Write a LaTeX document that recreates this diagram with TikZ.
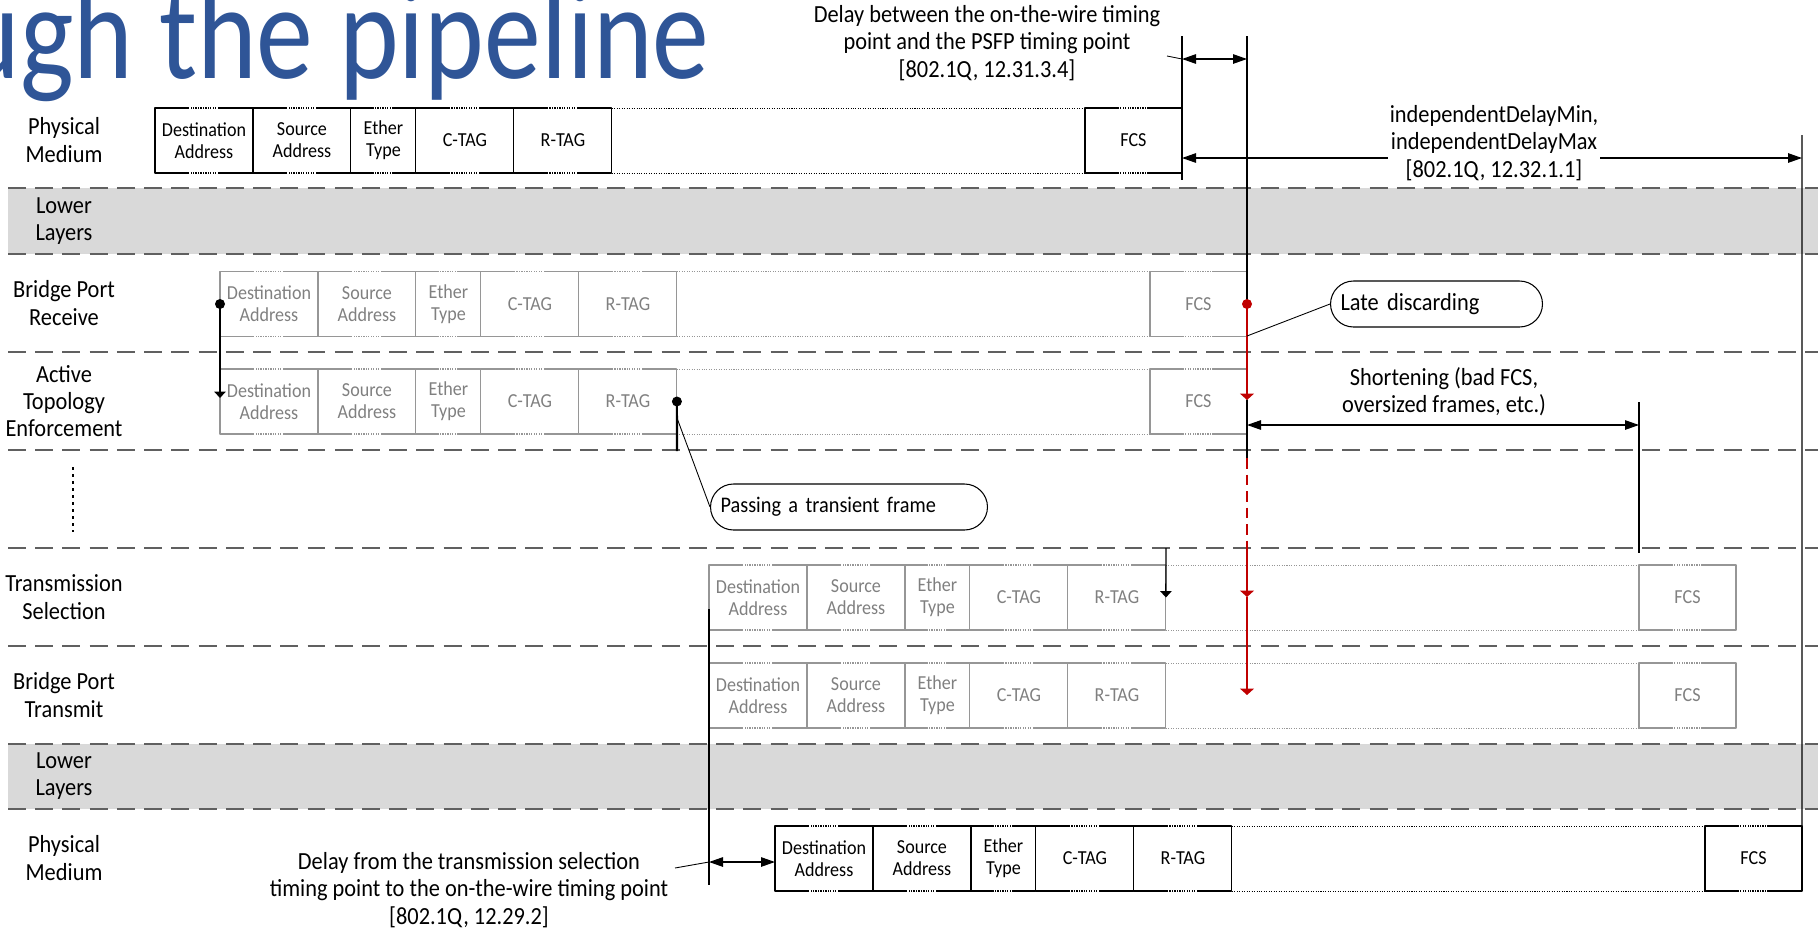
\documentclass[tikz,border=0pt]{standalone}
\usepackage{fontspec}
\setmainfont{Carlito}[FakeStretch=0.91]
\newfontfamily\titlefont{Carlito}[FakeStretch=0.84]
\usepackage{tikz}
\usetikzlibrary{arrows.meta,positioning,calc}
\definecolor{titleblue}{RGB}{47,85,151}
\definecolor{bandgrey}{RGB}{217,217,217}
\definecolor{sepgrey}{RGB}{96,96,96}
\definecolor{framegrey}{RGB}{150,150,150}
\definecolor{fadegrey}{RGB}{128,128,128}
\definecolor{latered}{RGB}{192,0,0}
\newcommand{\ethframe}[5]{%
  \node[fieldbox,draw=#4,text=#5,minimum width=1.96cm,anchor=west] (#1dst) at (#2,#3) {Destination\\Address};
  \node[fieldbox,draw=#4,text=#5,minimum width=1.96cm,right=0pt of #1dst] (#1src) {Source\\Address};
  \node[fieldbox,draw=#4,text=#5,minimum width=1.3cm,right=0pt of #1src] (#1eth) {Ether\\Type};
  \node[fieldbox,draw=#4,text=#5,minimum width=1.96cm,right=0pt of #1eth] (#1ctag) {C-TAG};
  \node[fieldbox,draw=#4,text=#5,minimum width=1.96cm,right=0pt of #1ctag] (#1rtag) {R-TAG};
  \node[fieldbox,draw=#4,text=#5,minimum width=1.94cm,anchor=west] (#1fcs) at (#2+930,#3) {FCS};
  \draw[gapline,draw=#4] (#1rtag.north east) -- (#1fcs.north west) (#1rtag.south east) -- (#1fcs.south west);
  \foreach \f in {dst,src,eth,ctag,rtag,fcs}
    \draw[breakline] ($(#1\f.north west)!0.35!(#1\f.north east)$) -- ($(#1\f.north west)!0.65!(#1\f.north east)$)
      ($(#1\f.south west)!0.35!(#1\f.south east)$) -- ($(#1\f.south west)!0.65!(#1\f.south east)$);
}

\begin{document}
\begin{tikzpicture}[x=0.02cm,y=-0.02cm,line join=round,
  fieldbox/.style={rectangle,outer sep=0pt,inner xsep=0.08cm,minimum height=1.3cm,line width=0.6pt,align=center,font=\fontsize{11.3}{12.5}\selectfont},
  gapline/.style={line width=0.5pt,dash pattern=on 0.6pt off 0.8pt},
  breakline/.style={white,line width=1pt,dash pattern=on 0.7pt off 0.7pt},
  sepline/.style={sepgrey,line width=1.1pt,dash pattern=on 10.2pt off 5.3pt},
  rowlabel/.style={align=center,font=\fontsize{14}{15.6}\selectfont},
  note/.style={align=center,inner sep=1pt,font=\fontsize{14}{15.6}\selectfont},
  callout/.style={draw,rounded corners=0.46cm,minimum height=0.92cm,inner xsep=0.2cm,align=left,anchor=west,line width=0.6pt,font=\fontsize{14}{15.6}\selectfont},
  dimarrow/.style={<->,>={Triangle[length=0.28cm,width=0.19cm]},line width=0.7pt},
  drop/.style={->,>={Triangle[length=0.13cm,width=0.23cm]}},
  reddrop/.style={latered,line width=1pt,->,>={Triangle[length=0.13cm,width=0.28cm]}}]
\useasboundingbox (0,0) rectangle (1818,930);
\clip (0,0) rectangle (1818,930);
\node[anchor=base east,inner sep=0pt,text=titleblue,font=\titlefont\fontsize{77}{90}\selectfont] (title) at (710,78) {ugh the pipeline};
\fill[bandgrey] (8,188) rectangle (1818,254);
\fill[bandgrey] (8,744) rectangle (1818,809);
\foreach \y in {188,254,352,450,548,646,744,809} \draw[sepline] (8,\y) -- (1818,\y);
\node[rowlabel] (lblpmtop) at (64,140) {Physical\\Medium};
\node[rowlabel] (lbllowtop) at (64,221) {Lower\\Layers};
\node[rowlabel] (lblbpr) at (64,303) {Bridge Port\\Receive};
\node[rowlabel] (lblate) at (64,401) {Active\\Topology\\Enforcement};
\node[rowlabel] (lblts) at (64,597) {Transmission\\Selection};
\node[rowlabel] (lblbpt) at (64,695) {Bridge Port\\Transmit};
\node[rowlabel] (lbllowbot) at (64,776) {Lower\\Layers};
\node[rowlabel] (lblpmbot) at (64,858) {Physical\\Medium};
\coordinate (dotsT) at (73,467);
\coordinate (dotsB) at (73,532);
\draw[line width=1.2pt,dash pattern=on 1.5pt off 2.5pt] (dotsT) -- (dotsB);
\ethframe{pmtop}{155}{140.5}{black}{black}
\ethframe{bpr}{220}{304}{framegrey}{fadegrey}
\ethframe{ate}{220}{401.5}{framegrey}{fadegrey}
\ethframe{ts}{709}{597.5}{framegrey}{fadegrey}
\ethframe{bpt}{709}{695.5}{framegrey}{fadegrey}
\ethframe{pmbot}{775}{858.5}{black}{black}
\coordinate (wireT) at (1182,36);
\coordinate (wireB) at (1182,180);
\coordinate (psfpT) at (1247,36);
\coordinate (psfpL) at (1182,59);
\coordinate (psfpR) at (1247,59);
\coordinate (psfpLead) at (1167,56);
\coordinate (idmL) at (1182,158);
\coordinate (idmR) at (1802,158);
\coordinate (idmT) at (1802,135);
\coordinate (discard) at (1247,304);
\coordinate (discardEnd) at (1247,400);
\coordinate (lateFoot) at (1247,336);
\coordinate (shortT) at (1247,400);
\coordinate (shortB) at (1247,458);
\coordinate (shortL) at (1247,425);
\coordinate (shortR) at (1639,425);
\coordinate (shortRT) at (1639,402);
\coordinate (shortRB) at (1639,553);
\coordinate (redA) at (1247,548);
\coordinate (redB) at (1247,597);
\coordinate (redC) at (1247,695);
\coordinate (passFoot) at (677,451);
\coordinate (passLead) at (677,418);
\coordinate (bprFoot) at (220,398);
\coordinate (tsTop) at (1166,548);
\coordinate (txT) at (709,609);
\coordinate (txB) at (709,885);
\coordinate (txL) at (709,862);
\coordinate (txR) at (775,862);
\coordinate (txLead) at (675,868);
\draw[line width=0.6pt] (wireT) -- (wireB);
\draw[line width=0.6pt] (psfpT) -- (discard);
\draw[dimarrow] (psfpL) -- (psfpR);
\draw[line width=0.5pt] (psfpLead) -- (psfpL);
\node[note] (psfpnote) at (987,43) {Delay between the on-the-wire timing\\point and the PSFP timing point\\{}[802.1Q, 12.31.3.4]};
\draw[dimarrow] (idmL) -- (idmR);
\draw[line width=0.6pt] (idmT) -- (pmbotfcs.north east);
\node[note,fill=white] (idmnote) at (1494,143) {independentDelayMin,\\independentDelayMax\\{}[802.1Q, 12.32.1.1]};
\draw[reddrop] (discard) -- (discardEnd);
\draw[line width=0.8pt] (shortT) -- (shortB);
\draw[latered,line width=1pt,dash pattern=on 6pt off 3.4pt] (shortB) -- (redA);
\draw[reddrop] (redA) -- (redB);
\draw[reddrop] (redB) -- (redC);
\draw[dimarrow] (shortL) -- (shortR);
\draw[line width=0.6pt] (shortRT) -- (shortRB);
\node[note] (shortnote) at (1444,392) {Shortening (bad FCS,\\oversized frames, etc.)};
\node[callout,text width=3.84cm] (latebox) at (1330,304) {Late discarding};
\draw[line width=0.5pt] (latebox.west) -- (lateFoot);
\draw[line width=1.2pt] (atertag.east) -- (passFoot);
\node[callout,text width=5.14cm,font=\fontsize{12.7}{15.6}\selectfont] (passbox) at (710,507) {Passing a transient frame};
\draw[line width=0.5pt] (passLead) -- (passbox.west);
\draw[line width=1.2pt,drop] (bprdst.west) -- (bprFoot);
\draw[line width=0.8pt,drop] (tsTop) -- (tsrtag.east);
\draw[line width=0.6pt] (txT) -- (txB);
\draw[dimarrow] (txL) -- (txR);
\draw[line width=0.5pt] (txLead) -- (txL);
\node[note] (txnote) at (469,890) {Delay from the transmission selection\\timing point to the on-the-wire timing point\\{}[802.1Q, 12.29.2]};
\foreach \p in {bprdst.west,atertag.east} \fill (\p) circle (0.1cm);
\fill[latered] (discard) circle (0.1cm);
\end{tikzpicture}
\end{document}
